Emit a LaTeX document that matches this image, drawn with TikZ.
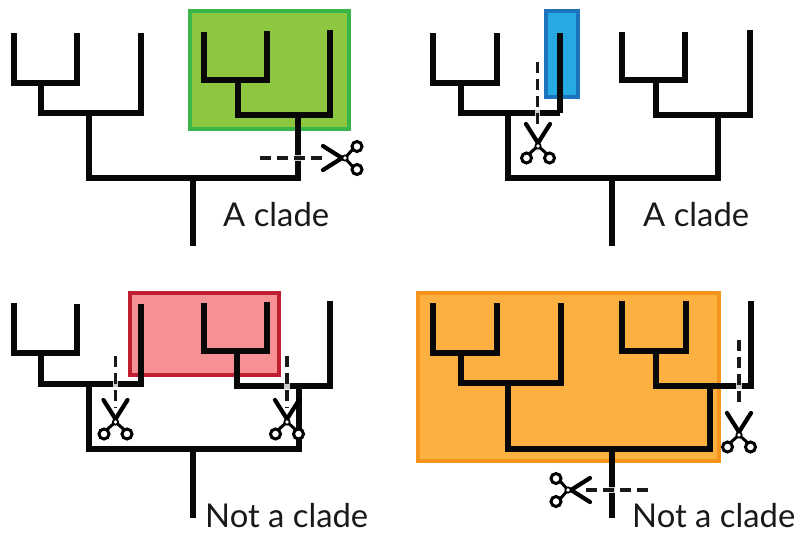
\documentclass[tikz,border=0pt]{standalone}
\usepackage{fontspec}
\setmainfont{Lato}
\definecolor{gfill}{HTML}{8DC63F}\definecolor{gedge}{HTML}{39B54A}
\definecolor{bfill}{HTML}{27AAE1}\definecolor{bedge}{HTML}{1C75BC}
\definecolor{rfill}{HTML}{F59095}\definecolor{redge}{HTML}{BE1E2D}
\definecolor{ofill}{HTML}{FBB040}\definecolor{oedge}{HTML}{F7941D}
\tikzset{
  treeline/.style={draw=black!97,line width=5.2pt,miter limit=10},
  halo/.style={draw=white,line width=5.6pt,opacity=0.8},
  cutline/.style={draw=black!90,line width=3.2pt,dash pattern=on 11pt off 6pt},
  clade/.style={line width=3.8pt},
  label/.style={anchor=base west,inner sep=0pt,font=\fontsize{32.8pt}{34pt}\selectfont,text=black!90}
}
\newcommand{\clipper}[3]{%
  \begin{scope}[shift={(#1,#2)},rotate=#3]
    \draw[black,line width=4.2pt,line cap=round] (-12,-22) -- (0,-3);
    \draw[black,line width=4.2pt,line cap=round] (12,-22) -- (0,-3);
    \draw[black,line width=3pt] (0,0) -- (-9,8) (0,0) -- (9,8);
    \draw[black,line width=3pt,fill=white] (-11.5,12) circle (5) (11.5,12) circle (5);
    \fill[black] (0,0) circle (3.6);
    \fill[white] (0,0) circle (1.8);
  \end{scope}}
\newcommand{\cut}[4]{%
  \draw[halo] (#1,#2) -- (#3,#4);
  \draw[cutline] (#1,#2) -- (#3,#4);}
\begin{document}
\begin{tikzpicture}[x=1pt,y=-1pt]
\useasboundingbox (0,0) rectangle (796,533);
% Panel 1
\draw[clade,draw=gedge,fill=gfill] (190,11) rectangle (349,129);
\draw[treeline] (14,33) -- (14,83) -- (77,83) -- (77,33);
\draw[treeline] (41,83) -- (41,113) -- (141,113) -- (141,33);
\draw[treeline] (89,113) -- (89,178) -- (298,178) -- (298,115);
\draw[treeline] (193,178) -- (193,246);
\draw[treeline] (204,32) -- (204,80) -- (267,80) -- (267,31);
\draw[treeline] (238,80) -- (238,115) -- (330,115) -- (330,30);
\cut{260}{158}{323}{158}
\clipper{345}{158}{90}
\node[label] (t1) at (223,226) {A clade};
% Panel 2
\draw[treeline] (433,33) -- (433,83) -- (497,83) -- (497,33);
\draw[treeline] (461,83) -- (461,113) -- (560,113);
\draw[treeline] (508,113) -- (508,178) -- (718,178) -- (718,115);
\draw[treeline] (612,178) -- (612,246);
\draw[treeline] (622,32) -- (622,80) -- (685,80) -- (685,32);
\draw[treeline] (656,80) -- (656,115) -- (750,115) -- (750,30);
\draw[clade,draw=bedge,fill=bfill] (546,11) rectangle (578,97);
\draw[treeline] (560,33) -- (560,113);
\cut{537.5}{62}{537.5}{125}
\clipper{538}{146}{0}
\node[label] (t2) at (643,226) {A clade};
% Panel 3
\draw[clade,draw=redge,fill=rfill] (130,293) rectangle (279,375);
\draw[treeline] (14,303) -- (14,353) -- (77,353) -- (77,304);
\draw[treeline] (41,353) -- (41,384) -- (141,384) -- (141,304);
\draw[treeline] (89,384) -- (89,449) -- (299,449) -- (299,386);
\draw[treeline] (193,449) -- (193,518);
\draw[treeline] (204,303) -- (204,351) -- (267,351) -- (267,302);
\draw[treeline] (237,351) -- (237,386) -- (330,386) -- (330,301);
\cut{115.5}{356}{115.5}{408}
\clipper{115.5}{422}{0}
\cut{287}{356}{287}{408}
\clipper{287}{422}{0}
\node[label] (t3) at (205,527) {Not a clade};
% Panel 4
\draw[clade,draw=oedge,fill=ofill] (418,293) rectangle (719,461);
\draw[treeline] (433,303) -- (433,353) -- (497,353) -- (497,303);
\draw[treeline] (461,353) -- (461,383) -- (561,383) -- (561,303);
\draw[treeline] (508,383) -- (508,449) -- (710,449) -- (710,386);
\draw[treeline] (612,449) -- (612,518);
\draw[treeline] (622,301) -- (622,351) -- (686,351) -- (686,301);
\draw[treeline] (656,351) -- (656,386) -- (751,386) -- (751,301);
\cut{739}{340}{739}{404}
\clipper{739}{435}{0}
\cut{586}{490}{650}{490}
\clipper{568}{490}{-90}
\node[label] (t4) at (632,527) {Not a clade};
\end{tikzpicture}
\end{document}
